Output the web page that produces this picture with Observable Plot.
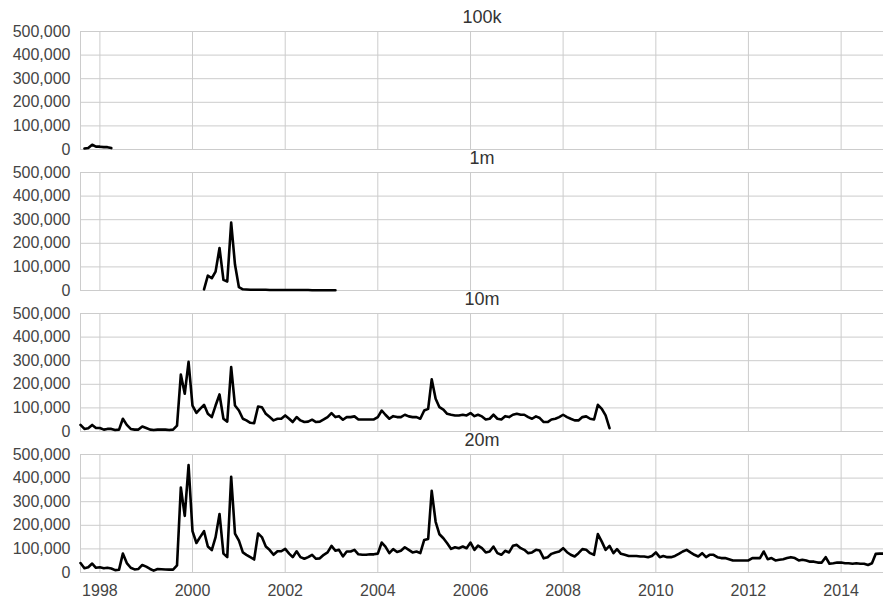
<!DOCTYPE html>
<html><head><meta charset="utf-8">
<script src="https://cdn.jsdelivr.net/npm/d3@7"></script>
<script src="https://cdn.jsdelivr.net/npm/@observablehq/plot@0.6"></script>
<style>body{margin:0;background:#fff;}</style>
</head><body><div id="chart"></div>
<script>
// Series names (facet titles)
const seriesNames = ["100k", "1m", "10m", "20m"];

// Monthly values in thousands; each series starts at the given month
const start100k = [1997, 9];
const values100k = [4, 6, 20, 12, 12, 10, 10, 6];

const start1m = [2000, 4];
const values1m = [5, 63, 52, 80, 180, 45, 38, 288, 110, 14, 5,
  4, 3, 3, 3, 3, 3, 2, 2, 2, 2, 2, 2, 2, 2, 2, 2, 2, 1, 1, 1, 1, 1, 1, 1];

const start10m = [1997, 8];
const values10m = [
  28, 11, 14, 28, 15, 15, 8, 11, 11, 6, 8, 54, 28, 11, 8, 8, 21, 15, 8, 6, 8, 8, 8, 6, 8, 25,
  241, 160, 295, 110, 79, 96, 113, 75, 61, 110, 157, 54, 42, 273, 110, 89, 54, 47, 37, 35, 106, 103, 75, 61, 47, 54, 54, 68, 54, 40, 61, 47, 40, 42, 50, 40, 42, 51, 61, 78, 61, 65, 50,
  61, 61, 64, 51, 51, 51, 51, 51, 61, 89, 71, 54, 65, 61, 61, 71, 64, 61, 61, 54, 89, 96, 221, 139, 103, 93, 75, 71, 68, 68, 71, 68, 78, 65, 71, 64, 51, 54, 71, 54, 51, 65, 61, 71, 75, 71, 71, 61, 54, 64, 57, 40, 40, 51, 54, 61, 71, 61, 54, 47, 47, 61, 64, 54, 51, 113, 96, 68, 14];

const start20m = [1997, 8];
const values20m = [
  40, 18, 22, 38, 20, 22, 18, 20, 17, 10, 12, 80, 40, 20, 13, 15, 32, 25, 15, 8, 15, 14, 13, 12, 12, 30,
  360, 240, 455, 175, 125, 150, 175, 110, 95, 150, 248, 80, 65, 405, 165, 135, 85, 75, 65, 55, 165, 150, 110, 95, 75, 90, 90, 100, 80, 65, 90, 65,
  58, 65, 75, 58, 60, 75, 85, 113, 92, 96, 68, 89, 89, 96, 77, 75, 75, 77, 77, 80, 127,
  110, 82, 99, 87, 92, 107, 96, 85, 89, 82, 138, 142, 346, 215, 162, 145, 124, 100, 107, 103, 110, 103, 127, 96, 114, 103, 85, 89, 110, 82, 75, 92, 85, 113, 117, 103, 96, 82, 85, 96, 93, 60, 65, 79, 85, 89, 103, 86, 75, 68, 82, 99, 96, 82, 75,
  163, 131, 96, 113, 82, 99, 79, 75, 70, 70, 70, 68, 68, 65, 70, 85, 65, 70, 65, 65, 70, 79, 89, 96, 85, 75, 68, 82, 65, 75, 75, 65, 61, 61, 56, 51, 51, 51, 51, 51, 61, 61, 61, 89, 56, 61, 51, 54, 56, 61, 65, 61, 51, 54, 51, 46, 46, 42, 42, 65, 37, 39, 42, 42, 39, 39, 37, 39, 37, 37, 32, 39, 79, 80, 80];

// Axis ticks
const yTicks = [0, 100000, 200000, 300000, 400000, 500000];
const xTickYears = [1998, 2000, 2002, 2004, 2006, 2008, 2010, 2012, 2014];
const xDomainMonths = [[1997, 8], [2014, 12]];

const toDate = (ym, i) => new Date(Date.UTC(ym[0], ym[1] - 1 + i, 1));
function rowsFor(name, start, vals) {
  return vals.map((v, i) => ({series: name, date: toDate(start, i), value: v * 1000}));
}
const rows = [
  ...rowsFor("100k", start100k, values100k),
  ...rowsFor("1m", start1m, values1m),
  ...rowsFor("10m", start10m, values10m),
  ...rowsFor("20m", start20m, values20m)
];
const xTicks = xTickYears.map(y => new Date(Date.UTC(y, 0, 1)));
const xDomain = xDomainMonths.map(d => toDate(d, 0));

const chart = Plot.plot({
  width: 883, height: 600,
  marginTop: 29, marginBottom: 27, marginLeft: 80, marginRight: 0,
  style: {fontFamily: "'Liberation Sans', Arial, sans-serif", fontSize: "16px", color: "#444", background: "#fff"},
  x: {type: "utc", domain: xDomain},
  y: {domain: [0, 500000]},
  fy: {domain: seriesNames, paddingInner: 0.165, paddingOuter: 0, axis: null, label: null},
  marks: [
    Plot.gridY(yTicks, {stroke: "#cccccc", strokeOpacity: 1}),
    Plot.gridX(xTicks, {stroke: "#cccccc", strokeOpacity: 1}),
    Plot.ruleX([xDomain[0]], {stroke: "#cccccc"}),
    Plot.axisY(yTicks, {tickSize: 0, tickPadding: 10, tickFormat: d3.format(","), label: null}),
    Plot.axisX(xTicks, {tickSize: 0, tickPadding: 12, tickFormat: d3.utcFormat("%Y"), label: null}),
    Plot.line(rows, {x: "date", y: "value", fy: "series", stroke: "#000", strokeWidth: 2.6, strokeLinejoin: "round"}),
    Plot.text(seriesNames, {fy: d => d, text: d => d, frameAnchor: "top", lineAnchor: "middle", dy: -14, fontSize: 18, fill: "#333"})
  ]
});
document.getElementById("chart").appendChild(chart);
</script>
</body></html>
